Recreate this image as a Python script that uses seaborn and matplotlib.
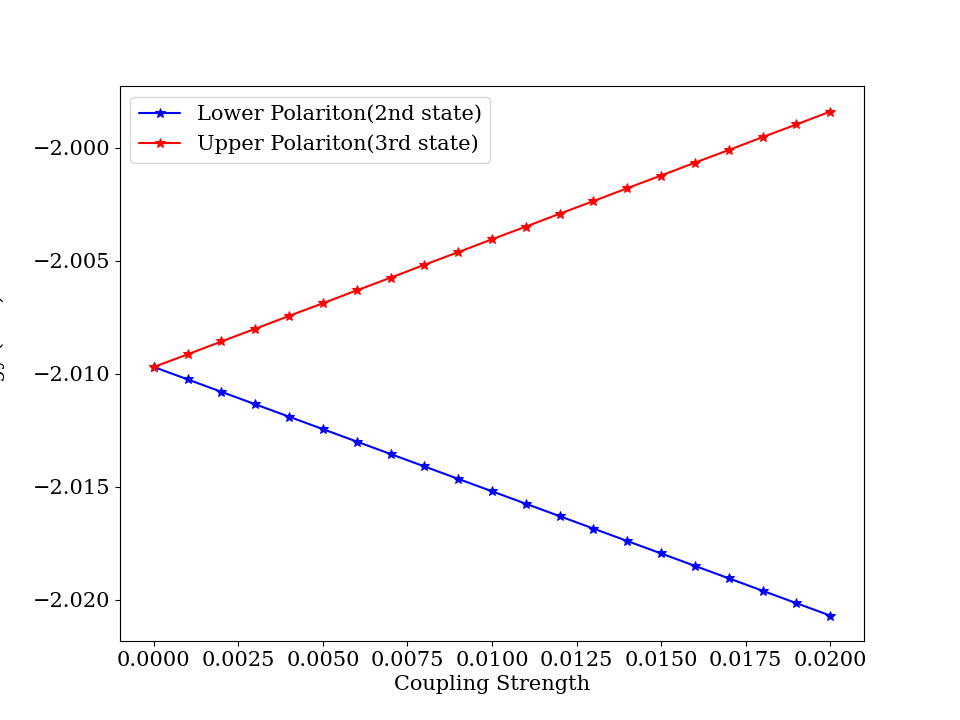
import numpy as np
import matplotlib
matplotlib.use('Agg')
from matplotlib import pyplot as plt
import seaborn as sns

coupling = [0.000, 0.001, 0.002, 0.003, 0.004, 0.005, 0.006, 0.007, 0.008, 0.009, 0.010,
            0.011, 0.012, 0.013, 0.014, 0.015, 0.016, 0.017, 0.018, 0.019, 0.020]
lower = [-2.00970, -2.01025, -2.01080, -2.01135, -2.01190, -2.01245, -2.01300, -2.01355,
         -2.01410, -2.01465, -2.01520, -2.01575, -2.01630, -2.01685, -2.01740, -2.01795,
         -2.01850, -2.01905, -2.01960, -2.02015, -2.02070]
upper = [-2.00970, -2.00914, -2.00857, -2.00801, -2.00744, -2.00688, -2.00631, -2.00575,
         -2.00518, -2.00462, -2.00405, -2.00349, -2.00292, -2.00236, -2.00179, -2.00123,
         -2.00066, -2.00010, -1.99953, -1.99897, -1.99840]

sns.set_style('ticks')
plt.rcParams['font.family'] = ['DejaVu Serif']
plt.rcParams['font.size'] = 15
for k in ['text.color', 'axes.labelcolor', 'xtick.color', 'ytick.color', 'axes.edgecolor']:
    plt.rcParams[k] = 'black'

fig, ax = plt.subplots(figsize=(9.6, 7.2), dpi=100)
sns.lineplot(x=coupling, y=lower, ax=ax, color='blue', marker='*', markersize=7,
             markeredgecolor='blue', label='Lower Polariton(2nd state)')
sns.lineplot(x=coupling, y=upper, ax=ax, color='red', marker='*', markersize=7,
             markeredgecolor='red', label='Upper Polariton(3rd state)')
ax.set_xticks(np.arange(0, 0.02001, 0.0025))
ax.set_xticklabels(['%.4f' % t for t in np.arange(0, 0.02001, 0.0025)])
ax.set_yticks([-2.020, -2.015, -2.010, -2.005, -2.000])
ax.set_yticklabels(['\u22122.020', '\u22122.015', '\u22122.010', '\u22122.005', '\u22122.000'])
ax.set_xlabel('Coupling Strength')
ax.set_ylabel('Energy (a.u.)')
ax.yaxis.set_label_coords(-0.155, 0.5)
ax.legend(loc='upper left')
plt.savefig('out.png')
